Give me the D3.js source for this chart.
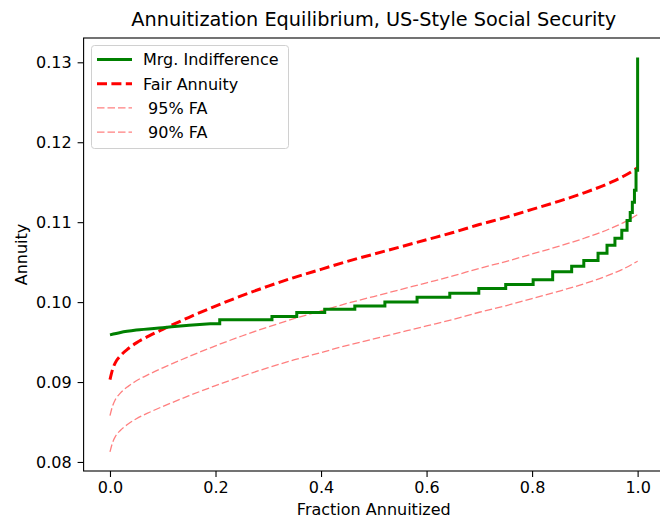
<!DOCTYPE html>
<html>
<head>
<meta charset="utf-8">
<script src="https://cdn.jsdelivr.net/npm/d3@7"></script>
<style>
  body { margin: 0; background: #fff; }
  svg { display: block; font-family: "DejaVu Sans", sans-serif; }
</style>
</head>
<body>
<svg id="chart" width="660" height="519"></svg>
<script>
// ---- data ----
const fracX = [0, 0.005, 0.01, 0.02, 0.035, 0.05, 0.075, 0.1, 0.15, 0.2, 0.25, 0.3, 0.35, 0.4, 0.45, 0.5, 0.55, 0.6, 0.65, 0.7, 0.75, 0.8, 0.85, 0.9, 0.95, 0.975, 1.0];
const fairAnnuity = [0.0903, 0.0916, 0.0924, 0.0933, 0.0942, 0.0949, 0.0958, 0.0966, 0.0981, 0.0995, 0.1008, 0.1020, 0.1031, 0.1041, 0.1051, 0.1060, 0.1069, 0.1078, 0.1087, 0.1097, 0.1106, 0.1116, 0.1126, 0.1137, 0.1150, 0.1158, 0.1168];
const fa95 = [0.08579, 0.08702, 0.08778, 0.08864, 0.08949, 0.09016, 0.09101, 0.09177, 0.09320, 0.09453, 0.09576, 0.09690, 0.09795, 0.09890, 0.09985, 0.10070, 0.10156, 0.10241, 0.10327, 0.10422, 0.10507, 0.10602, 0.10697, 0.10802, 0.10925, 0.11001, 0.11096];
const fa90 = [0.08127, 0.08244, 0.08316, 0.08397, 0.08478, 0.08541, 0.08622, 0.08694, 0.08829, 0.08955, 0.09072, 0.09180, 0.09279, 0.09369, 0.09459, 0.09540, 0.09621, 0.09702, 0.09783, 0.09873, 0.09954, 0.10044, 0.10134, 0.10233, 0.10350, 0.10422, 0.10512];

// Marginal indifference: smooth start, then steps
const mrgSmoothX = [0, 0.02, 0.05, 0.1, 0.15, 0.19];
const mrgSmoothY = [0.0959, 0.0962, 0.0965, 0.0968, 0.0971, 0.0973];
const mrgStepX = [0.19, 0.208, 0.307, 0.354, 0.407, 0.464, 0.521, 0.582, 0.644, 0.699, 0.750, 0.802, 0.839, 0.875, 0.898, 0.925, 0.942, 0.957, 0.970, 0.980, 0.986, 0.990, 0.994, 0.997, 1.0];
const mrgStepY = [0.0973, 0.0978, 0.0982, 0.0987, 0.0991, 0.0995, 0.1000, 0.1006, 0.1011, 0.1017, 0.1022, 0.1028, 0.1038, 0.1045, 0.1052, 0.1061, 0.1071, 0.1080, 0.1090, 0.1102, 0.1112, 0.1125, 0.1140, 0.1165, 0.1306];

const xTicks = [0, 0.2, 0.4, 0.6, 0.8, 1.0];
const yTicks = [0.08, 0.09, 0.10, 0.11, 0.12, 0.13];
const legendLabels = ["Mrg. Indifference", "Fair Annuity", " 95% FA", " 90% FA"];
const titleText = "Annuitization Equilibrium, US-Style Social Security";
const xLabel = "Fraction Annuitized";
const yLabel = "Annuity";

// ---- layout ----
const svg = d3.select("#chart");
const L = 83.6, R = 664, T = 38, B = 471;
const x = d3.scaleLinear().domain([-0.05, 1.05]).range([L, R]);
const y = d3.scaleLinear().domain([0.07887, 0.13304]).range([B, T]);
const fs = 16;

const line = (xs, ys, curve) => d3.line().x((d, i) => x(xs[i])).y(d => y(d)).curve(curve)(ys);

const thinDash = "7.5,3";
const thickDash = "10,4.4";
const g = svg.append("g");
g.append("path").attr("d", line(fracX, fa90, d3.curveMonotoneX))
  .attr("fill", "none").attr("stroke", "#ff0000").attr("stroke-opacity", 0.5)
  .attr("stroke-width", 1.3).attr("stroke-dasharray", thinDash);
g.append("path").attr("d", line(fracX, fa95, d3.curveMonotoneX))
  .attr("fill", "none").attr("stroke", "#ff0000").attr("stroke-opacity", 0.5)
  .attr("stroke-width", 1.3).attr("stroke-dasharray", thinDash);
g.append("path").attr("d", line(fracX, fairAnnuity, d3.curveMonotoneX))
  .attr("fill", "none").attr("stroke", "#ff0000")
  .attr("stroke-width", 3).attr("stroke-dasharray", thickDash);
const greenD = line(mrgSmoothX, mrgSmoothY, d3.curveMonotoneX) +
  line(mrgStepX, mrgStepY, d3.curveStepAfter).replace(/^M/, "L");
g.append("path").attr("d", greenD)
  .attr("fill", "none").attr("stroke", "#008000")
  .attr("stroke-width", 3).attr("stroke-linejoin", "miter");

// axes
const xAxis = svg.append("g").attr("transform", `translate(0,${B})`)
  .call(d3.axisBottom(x).tickValues(xTicks).tickFormat(d3.format(".1f")).tickSize(6).tickPadding(5));
const yAxis = svg.append("g").attr("transform", `translate(${L},0)`)
  .call(d3.axisLeft(y).tickValues(yTicks).tickFormat(d3.format(".2f")).tickSize(6).tickPadding(6));
[xAxis, yAxis].forEach(a => {
  a.select(".domain").remove();
  a.selectAll("line").attr("stroke", "#000").attr("stroke-width", 1.1);
  a.selectAll("text").attr("font-family", "DejaVu Sans").attr("font-size", fs).attr("fill", "#000");
});
svg.append("rect").attr("x", L).attr("y", T).attr("width", R - L).attr("height", B - T)
  .attr("fill", "none").attr("stroke", "#000").attr("stroke-width", 1.1);

// titles
svg.append("text").attr("x", (L + R) / 2).attr("y", 26).attr("text-anchor", "middle")
  .attr("font-size", 19.3).attr("fill", "#000").text(titleText);
svg.append("text").attr("x", (L + R) / 2).attr("y", 514.5).attr("text-anchor", "middle")
  .attr("font-size", fs).attr("fill", "#000").text(xLabel);
svg.append("text").attr("transform", `translate(27,${(T + B) / 2}) rotate(-90)`).attr("text-anchor", "middle")
  .attr("font-size", fs).attr("fill", "#000").text(yLabel);

// legend
const lg = svg.append("g");
lg.append("rect").attr("x", 91.5).attr("y", 45.5).attr("width", 197).attr("height", 103).attr("rx", 3)
  .attr("fill", "#fff").attr("fill-opacity", 0.8).attr("stroke", "#d0d0d0").attr("stroke-width", 1);
const styles = [
  { stroke: "#008000", op: 1, w: 3, dash: null },
  { stroke: "#ff0000", op: 1, w: 3, dash: thickDash },
  { stroke: "#ff0000", op: 0.5, w: 1.3, dash: thinDash },
  { stroke: "#ff0000", op: 0.5, w: 1.3, dash: thinDash }
];
legendLabels.forEach((lab, i) => {
  const yy = 59.5 + i * 24.2;
  lg.append("line").attr("x1", 97).attr("x2", 132).attr("y1", yy).attr("y2", yy)
    .attr("stroke", styles[i].stroke).attr("stroke-opacity", styles[i].op)
    .attr("stroke-width", styles[i].w).attr("stroke-dasharray", styles[i].dash);
  lg.append("text").attr("x", 143).attr("y", yy + 5.8).attr("font-size", fs).attr("fill", "#000")
    .style("white-space", "pre").text(lab);
});
</script>
</body>
</html>
